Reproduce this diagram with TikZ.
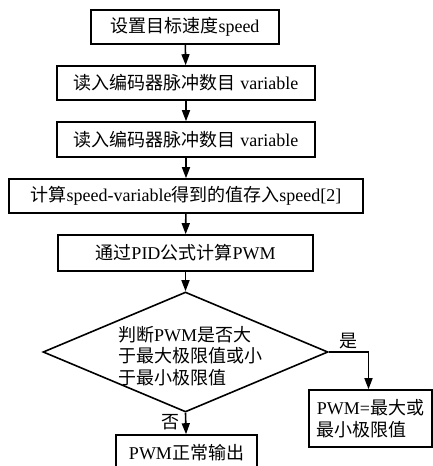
\documentclass[tikz,border=0pt]{standalone}
\usepackage{fontspec}
\setmainfont{Liberation Serif}
\newfontfamily\cjk{Noto Sans CJK SC}
\newcommand{\zh}[1]{{\cjk #1}}
\usetikzlibrary{shapes.geometric,arrows.meta}
\tikzset{
  stepbox/.style={draw, line width=1.6pt, rectangle, inner sep=0pt, align=center},
  flow/.style={line width=1.6pt, -{Triangle[length=11pt,width=8pt]}},
  lbl/.style={inner sep=1pt},
  every node/.style={font=\fontsize{18}{21.5}\selectfont}
}
\begin{document}
\begin{tikzpicture}[x=1pt,y=1pt]
\useasboundingbox (0,0) rectangle (433,-466);
\clip (0,0) rectangle (433,-466);
\node[stepbox, minimum width=188, minimum height=34] (b1) at (185,-27) {\zh{设置目标速度}speed};
\node[stepbox, minimum width=258, minimum height=34] (b2) at (186,-83) {\zh{读入编码器脉冲数目} variable};
\node[stepbox, minimum width=258, minimum height=35] (b3) at (186,-139.5) {\zh{读入编码器脉冲数目} variable};
\node[stepbox, minimum width=354, minimum height=34] (b4) at (186,-196) {\zh{计算}speed-variable\zh{得到的值存入}speed[2]};
\node[stepbox, minimum width=255, minimum height=36] (b5) at (185.5,-253) {\zh{通过}PID\zh{公式计算}PWM};
\node[draw, diamond, line width=1.6pt, inner sep=0pt, minimum width=285, minimum height=120] (d) at (185.5,-352) {};
\node[align=left, inner sep=0pt] (dt) at (190,-356) {\zh{判断}PWM\zh{是否大}\\\zh{于最大极限值或小}\\\zh{于最小极限值}};
\node[stepbox, minimum width=141, minimum height=36] (b6) at (186.5,-453) {PWM\zh{正常输出}};
\node[stepbox, minimum width=123, minimum height=57, align=left] (b7) at (370.5,-418.5) {PWM=\zh{最大或}\\\zh{最小极限值}};
\draw[flow] (b1) -- (b2);
\draw[flow] (b2) -- (b3);
\draw[flow] (b3) -- (b4);
\draw[flow] (b4) -- (b5);
\draw[flow] (b5) -- (d.north);
\draw[flow] (d.south) -- node[lbl, left, pos=0.45, xshift=-4pt] {\zh{否}} (b6);
\draw[flow] (d.east) -| node[lbl, above, pos=0.25, yshift=1pt] {\zh{是}} ([xshift=-2pt]b7.north);
\end{tikzpicture}
\end{document}
